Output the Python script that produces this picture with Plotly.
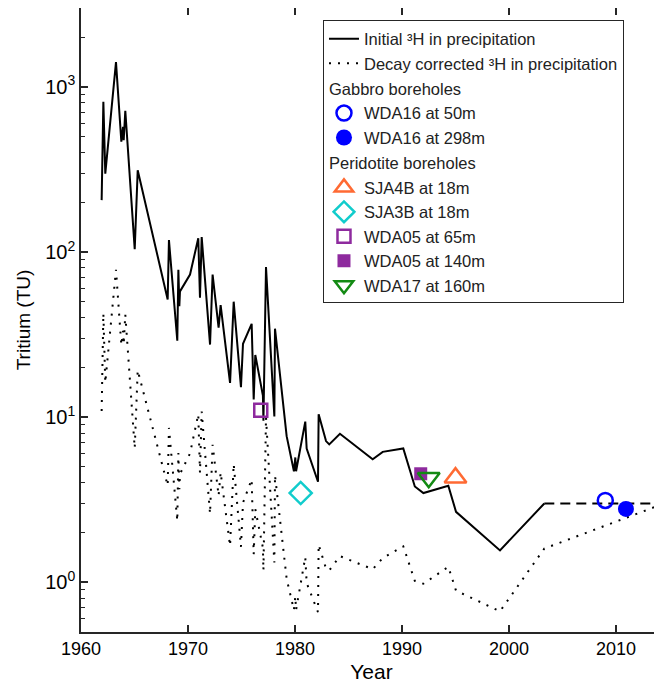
import plotly.graph_objects as go

# ---- data ----
years = [1961.93, 1962.09, 1962.27, 1963.27, 1963.77, 1963.93, 1963.99, 1964.14, 1965.02, 1965.30,
         1968.10, 1968.22, 1969.00, 1969.10, 1969.19, 1969.25, 1970.19, 1970.96, 1971.12, 1971.28,
         1972.06, 1972.30, 1972.86, 1973.05, 1973.93, 1974.27, 1974.95, 1975.14, 1975.95, 1976.14,
         1976.29, 1977.00, 1977.05, 1977.29, 1978.07, 1978.13, 1979.22, 1979.90, 1980.03, 1980.10,
         1980.96, 1981.09, 1982.15, 1982.21, 1982.90, 1983.20, 1984.20, 1987.26, 1988.20, 1990.12,
         1991.20, 1992.00, 1994.33, 1995.05, 1999.16, 2003.30]
initial_3h = [206, 811, 298, 1410, 466, 573, 475, 716, 104, 312,
              51.6, 118, 29, 78, 47, 57.7, 73, 121, 52.9, 123,
              27.5, 73, 34.8, 47.7, 16.1, 50, 15.2, 27.8, 36.7, 12.8,
              23.8, 13.5, 9.5, 81, 10.1, 34.3, 7.67, 4.7, 5.7, 4.7,
              9.4, 6.46, 4.06, 10.4, 7.16, 6.84, 7.93, 5.56, 6.16, 6.46,
              3.8, 3.47, 3.84, 2.67, 1.56, 3.0]
decay_years = years + [2014.5]
decay_3h = [10.9, 42.5, 16.2, 78, 27.2, 33.3, 27.6, 41.8, 6.5, 19.2,
            3.85, 8.6, 2.35, 6.06, 3.66, 4.52, 6.03, 10.4, 4.6, 10.8,
            2.6, 6.8, 3.34, 4.63, 1.66, 5.2, 1.64, 3.03, 4.2, 1.48,
            2.77, 1.62, 1.18, 10.0, 1.32, 4.45, 1.05, 0.68, 0.82, 0.68,
            1.42, 0.99, 0.66, 1.69, 1.21, 1.18, 1.44, 1.2, 1.4, 1.65,
            1.02, 0.98, 1.24, 0.89, 0.667, 1.6, 3.0]
ext_years = [2003.30, 2015.0]
ext_3h = [3.0, 3.0]

samples = [
    # name, year, TU, group
    ("WDA16 at 50m", 2009.0, 3.13, "gabbro"),
    ("WDA16 at 298m", 2010.93, 2.78, "gabbro"),
    ("SJA4B at 18m", 1995.0, 4.3, "peridotite"),
    ("SJA3B at 18m", 1980.53, 3.47, "peridotite"),
    ("WDA05 at 65m", 1976.8, 11.0, "peridotite"),
    ("WDA05 at 140m", 1991.75, 4.54, "peridotite"),
    ("WDA17 at 160m", 1992.5, 4.3, "peridotite"),
]
group_titles = {"gabbro": "Gabbro boreholes", "peridotite": "Peridotite boreholes"}

y_tickvals = [1, 10, 100, 1000]
y_ticktext = ["10<sup>0</sup>", "10<sup>1</sup>", "10<sup>2</sup>", "10<sup>3</sup>"]
x_tickvals = [1960, 1970, 1980, 1990, 2000, 2010]

# ---- styles ----
styles = {
    "WDA16 at 50m": dict(symbol="circle-open", color="#0000FF", size=15, lw=2.5),
    "WDA16 at 298m": dict(symbol="circle", color="#0000FF", size=16, lw=0),
    "SJA4B at 18m": dict(symbol="triangle-up-open", color="#FF6A33", size=19, lw=2.5),
    "SJA3B at 18m": dict(symbol="diamond-open", color="#11CCCC", size=17, lw=2.5),
    "WDA05 at 65m": dict(symbol="square-open", color="#8E2A9E", size=13, lw=2.5),
    "WDA05 at 140m": dict(symbol="square", color="#8E2A9E", size=13, lw=0),
    "WDA17 at 160m": dict(symbol="triangle-down-open", color="#138A13", size=19, lw=2.5),
}

FONT = "Liberation Sans, Arial, Helvetica, sans-serif"
LEG_FS = 16.5

fig = go.Figure()
fig.add_trace(go.Scatter(x=years, y=initial_3h, mode="lines", name="Initial ³H in precipitation",
                         line=dict(color="black", width=2), legendgroup="precip"))
fig.add_trace(go.Scatter(x=decay_years, y=decay_3h, mode="lines",
                         name="Decay corrected ³H in precipitation",
                         line=dict(color="black", width=2, dash="2px,7px"), legendgroup="precip"))
fig.add_trace(go.Scatter(x=ext_years, y=ext_3h, mode="lines", showlegend=False,
                         line=dict(color="black", width=2, dash="10px,6px"), legendgroup="precip"))

seen = set()
for name, yr, val, grp in samples:
    st = styles[name]
    kw = {}
    if grp not in seen:
        kw["legendgrouptitle"] = dict(text=group_titles[grp], font=dict(size=LEG_FS, color="#222"))
        seen.add(grp)
    fig.add_trace(go.Scatter(
        x=[yr], y=[val], mode="markers", name=name, legendgroup=grp,
        marker=dict(symbol=st["symbol"], size=st["size"], color=st["color"],
                    line=dict(color=st["color"], width=st["lw"])),
        **kw))

minor_vals = []
for dec in [0.1, 1, 10, 100, 1000]:
    for m in range(2, 10):
        minor_vals.append(m * dec)

# page has an 8px body margin, so margins are compensated accordingly
fig.update_layout(
    width=662, height=690,
    margin=dict(l=73, r=8, t=0, b=66, autoexpand=False),
    paper_bgcolor="white", plot_bgcolor="white",
    font=dict(family=FONT, size=18, color="black"),
    showlegend=True,
    legend=dict(x=0.4165, y=0.98, xanchor="left", yanchor="top",
                bordercolor="#262626", borderwidth=1, bgcolor="white",
                font=dict(size=LEG_FS, color="#222"), tracegroupgap=1,
                traceorder="grouped", itemwidth=30),
    xaxis=dict(range=[1960, 2014.3], tickvals=x_tickvals, ticks="inside", ticklen=7,
               tickwidth=1.5, tickcolor="#262626", showline=True, linecolor="#262626",
               linewidth=1.5, mirror="ticks", showgrid=False, zeroline=False,
               automargin=False,
               tickfont=dict(size=18, color="black"),
               title=dict(text="Year", font=dict(size=21, color="black"), standoff=6)),
    yaxis=dict(type="log", range=[-0.30103, 3.4771], tickvals=y_tickvals, ticktext=y_ticktext,
               ticks="inside", ticklen=7, tickwidth=1.5, tickcolor="#262626",
               showline=True, linecolor="#262626", linewidth=1.5, mirror=False,
               showgrid=False, zeroline=False, automargin=False,
               minor=dict(tickvals=minor_vals, ticks="inside", ticklen=4,
                          tickwidth=1, tickcolor="#262626", showgrid=False),
               tickfont=dict(size=20, color="black"),
               title=dict(text="Tritium (TU)", font=dict(size=19, color="black"), standoff=10)),
)

fig.write_html("out.html")
